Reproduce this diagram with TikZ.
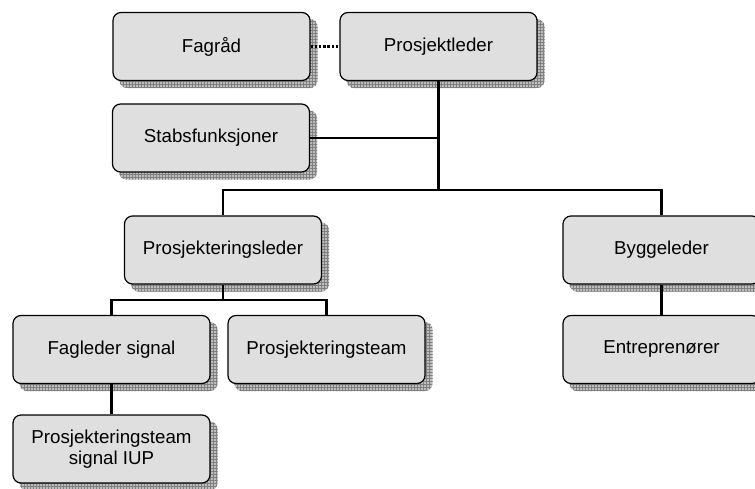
\documentclass[tikz,border=0pt]{standalone}
\usepackage{fontspec}
\setmainfont{Liberation Sans}
\usetikzlibrary{patterns,backgrounds}
\definecolor{boxfill}{HTML}{DFDFDF}
\definecolor{shadowfill}{HTML}{BEBEBE}
\definecolor{shadowgrid}{HTML}{808080}
\tikzset{
 orgbox/.style={draw=black, line width=1.2pt, fill=boxfill, rounded corners=8pt, minimum width=197pt, minimum height=68pt, inner sep=0pt, align=center, font=\fontsize{18.7}{21.5}\selectfont},
 link/.style={line width=2.4pt, black},
 dotlink/.style={line width=2.6pt, black, dash pattern=on 2.4pt off 1.8pt},
 shadowbox/.style={fill=shadowfill, rounded corners=8pt, postaction={pattern=grid, pattern color=shadowgrid}}
}
\begin{document}
\begin{tikzpicture}[x=1pt,y=-1pt]
\path[use as bounding box, clip] (0,0) rectangle (755,489);
\node[orgbox] (fag) at (211.5,46.5) {Fagråd};
\node[orgbox] (pl) at (438.5,46.5) {Prosjektleder};
\node[orgbox] (stab) at (211,138) {Stabsfunksjoner};
\node[orgbox] (pleder) at (223,250) {Prosjekteringsleder};
\node[orgbox] (bygg) at (661.5,250) {Byggeleder};
\node[orgbox] (flsig) at (111.5,349.5) {Fagleder signal};
\node[orgbox] (pteam) at (326.5,349.5) {Prosjekteringsteam};
\node[orgbox] (entr) at (661.5,349.5) {Entreprenører};
\node[orgbox] (iup) at (111.5,449) {Prosjekteringsteam\\signal IUP};
\coordinate (bus1) at (0,190);
\coordinate (bus2) at (0,300);
\begin{scope}[on background layer]
\foreach \n in {fag,pl,stab,pleder,bygg,flsig,pteam,entr,iup}
  \path[shadowbox] ([shift={(7,7)}]\n.north west) rectangle ([shift={(7,7)}]\n.south east);
\draw[dotlink] (fag.east) -- (pl.west);
\draw[link] (pl.south) -- (pl.south |- bus1);
\draw[link] (stab.east) -- (stab.east -| pl.south);
\draw[link] (pleder.north) -- (pleder.north |- bus1) -- (bygg.north |- bus1) -- (bygg.north);
\draw[link] (pleder.south) -- (pleder.south |- bus2);
\draw[link] (flsig.north) -- (flsig.north |- bus2) -- (pteam.north |- bus2) -- (pteam.north);
\draw[link] (flsig.south) -- (iup.north);
\draw[link] (bygg.south) -- (entr.north);
\end{scope}
\end{tikzpicture}
\end{document}
